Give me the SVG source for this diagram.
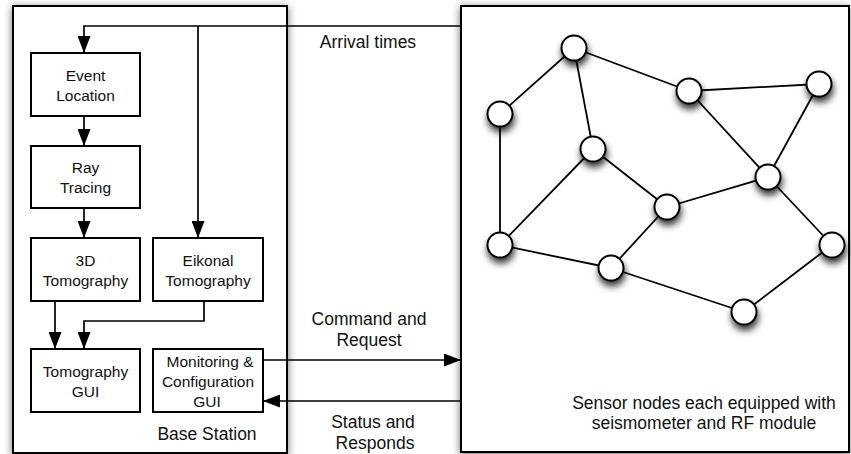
<svg xmlns="http://www.w3.org/2000/svg" width="851" height="454" viewBox="0 0 851 454">
  <style>
    .frame { fill: #fff; stroke: #000; stroke-width: 2; }
    .box { fill: #fff; stroke: #000; stroke-width: 2; }
    .wire { fill: none; stroke: #000; stroke-width: 1.7; }
    .link { fill: none; stroke: #000; stroke-width: 1.8; }
    .node { fill: #fff; stroke: #000; stroke-width: 2; }
    .t { font-family: "Liberation Sans", Arial, sans-serif; font-size: 15.5px; fill: #111; text-anchor: middle; }
    .lbl { font-family: "Liberation Sans", Arial, sans-serif; font-size: 17.5px; fill: #111; text-anchor: middle; }
  </style>
  <defs>
    <filter id="frameShadow" x="-10%" y="-10%" width="120%" height="120%">
      <feDropShadow dx="0" dy="2" stdDeviation="4.5" flood-color="#000" flood-opacity="0.55"/>
    </filter>
    <filter id="nodeShadow" x="-60%" y="-60%" width="220%" height="240%">
      <feDropShadow dx="1" dy="5" stdDeviation="3.5" flood-color="#000" flood-opacity="0.8"/>
    </filter>
    <marker id="arrow" markerUnits="userSpaceOnUse" markerWidth="18" markerHeight="13" refX="17" refY="6.5" orient="auto">
      <path d="M0,0 L17,6.5 L0,13 z" fill="#000"/>
    </marker>
  </defs>

  <!-- outer frames -->
  <g id="base-station">
    <rect class="frame" x="13" y="6" width="274" height="447" filter="url(#frameShadow)"/>
    <text class="lbl" x="207" y="440">Base Station</text>
  </g>
  <g id="sensor-field">
    <rect class="frame" x="461" y="6" width="388" height="446" filter="url(#frameShadow)"/>
    <text class="lbl" x="704" y="409">Sensor nodes each equipped with</text>
    <text class="lbl" x="704" y="429">seismometer and RF module</text>
  </g>

  <!-- processing blocks -->
  <g id="event-location">
    <rect class="box" x="31" y="53" width="109" height="63"/>
    <text class="t" x="85.5" y="81">Event</text>
    <text class="t" x="85.5" y="101">Location</text>
  </g>
  <g id="ray-tracing">
    <rect class="box" x="31" y="146" width="109" height="62"/>
    <text class="t" x="85.5" y="173">Ray</text>
    <text class="t" x="85.5" y="193">Tracing</text>
  </g>
  <g id="tomography-3d">
    <rect class="box" x="31" y="238" width="109" height="63"/>
    <text class="t" x="85.5" y="265.5">3D</text>
    <text class="t" x="85.5" y="285.5">Tomography</text>
  </g>
  <g id="eikonal-tomography">
    <rect class="box" x="153" y="238" width="110" height="63"/>
    <text class="t" x="208" y="265.5">Eikonal</text>
    <text class="t" x="208" y="285.5">Tomography</text>
  </g>
  <g id="tomography-gui">
    <rect class="box" x="31" y="349" width="109" height="63"/>
    <text class="t" x="85.5" y="377">Tomography</text>
    <text class="t" x="85.5" y="397">GUI</text>
  </g>
  <g id="monitoring-gui">
    <rect class="box" x="153" y="349" width="110" height="63"/>
    <text class="t" x="210" y="366.5">Monitoring &amp;</text>
    <text class="t" x="208" y="386.5">Configuration</text>
    <text class="t" x="207" y="406.5">GUI</text>
  </g>

  <!-- data flow connectors -->
  <g id="connectors">
    <path class="wire" d="M461,26 H84 V53" marker-end="url(#arrow)"/>
    <path class="wire" d="M198,26 V238" marker-end="url(#arrow)"/>
    <path class="wire" d="M84,116 V146" marker-end="url(#arrow)"/>
    <path class="wire" d="M84,208 V238" marker-end="url(#arrow)"/>
    <path class="wire" d="M55,301 V349" marker-end="url(#arrow)"/>
    <path class="wire" d="M204,301 V321 H84 V349" marker-end="url(#arrow)"/>
    <path class="wire" d="M263,360 H461" marker-end="url(#arrow)"/>
    <path class="wire" d="M461,401 H263" marker-end="url(#arrow)"/>
    <text class="lbl" x="368" y="48">Arrival times</text>
    <text class="lbl" x="369" y="325">Command and</text>
    <text class="lbl" x="369" y="346">Request</text>
    <text class="lbl" x="373" y="428">Status and</text>
    <text class="lbl" x="375" y="449">Responds</text>
  </g>

  <!-- sensor mesh links -->
  <g id="mesh-links">
    <line class="link" x1="574" y1="48" x2="500" y2="114"/>
    <line class="link" x1="574" y1="48" x2="689" y2="91"/>
    <line class="link" x1="574" y1="48" x2="593" y2="149"/>
    <line class="link" x1="689" y1="91" x2="819" y2="84"/>
    <line class="link" x1="689" y1="91" x2="768" y2="177"/>
    <line class="link" x1="819" y1="84" x2="768" y2="177"/>
    <line class="link" x1="593" y1="149" x2="667" y2="207"/>
    <line class="link" x1="593" y1="149" x2="500" y2="245"/>
    <line class="link" x1="500" y1="114" x2="500" y2="245"/>
    <line class="link" x1="667" y1="207" x2="768" y2="177"/>
    <line class="link" x1="667" y1="207" x2="611" y2="268"/>
    <line class="link" x1="500" y1="245" x2="611" y2="268"/>
    <line class="link" x1="611" y1="268" x2="744" y2="312"/>
    <line class="link" x1="744" y1="312" x2="832" y2="245"/>
    <line class="link" x1="768" y1="177" x2="832" y2="245"/>
  </g>

  <!-- sensor nodes -->
  <g id="sensor-1"><circle class="node" cx="574" cy="48" r="12.5" filter="url(#nodeShadow)"/></g>
  <g id="sensor-2"><circle class="node" cx="500" cy="114" r="12.5" filter="url(#nodeShadow)"/></g>
  <g id="sensor-3"><circle class="node" cx="689" cy="91" r="12.5" filter="url(#nodeShadow)"/></g>
  <g id="sensor-4"><circle class="node" cx="819" cy="84" r="12.5" filter="url(#nodeShadow)"/></g>
  <g id="sensor-5"><circle class="node" cx="593" cy="149" r="12.5" filter="url(#nodeShadow)"/></g>
  <g id="sensor-6"><circle class="node" cx="768" cy="177" r="12.5" filter="url(#nodeShadow)"/></g>
  <g id="sensor-7"><circle class="node" cx="667" cy="207" r="12.5" filter="url(#nodeShadow)"/></g>
  <g id="sensor-8"><circle class="node" cx="500" cy="245" r="12.5" filter="url(#nodeShadow)"/></g>
  <g id="sensor-9"><circle class="node" cx="611" cy="268" r="12.5" filter="url(#nodeShadow)"/></g>
  <g id="sensor-10"><circle class="node" cx="832" cy="245" r="12.5" filter="url(#nodeShadow)"/></g>
  <g id="sensor-11"><circle class="node" cx="744" cy="312" r="12.5" filter="url(#nodeShadow)"/></g>
</svg>
